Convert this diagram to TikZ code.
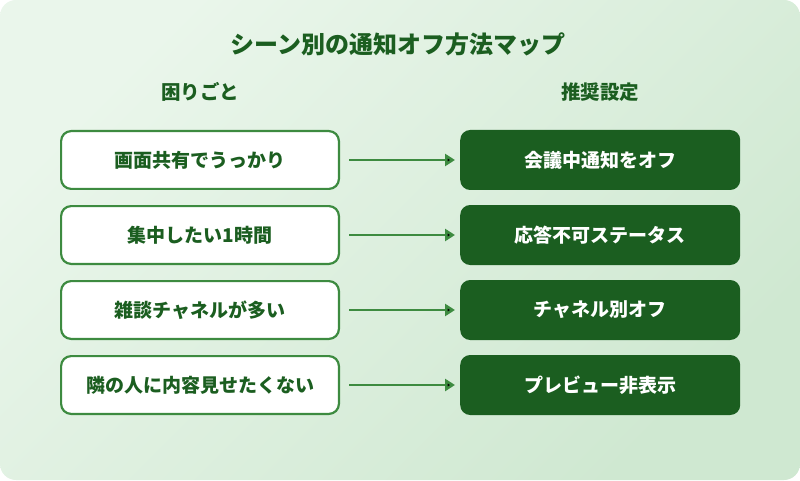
\documentclass[tikz,border=0pt]{standalone}
\usepackage{fontspec}
\setmainfont{Noto Sans CJK JP}
\usepackage{tikz}
\usetikzlibrary{positioning, arrows.meta}
\definecolor{deepgreen}{HTML}{1B5E20}
\definecolor{midgreen}{HTML}{3D8B40}
\definecolor{bglight}{HTML}{EAF6EB}
\definecolor{bgdark}{HTML}{CFE8D1}
\tikzstyle{head}=[text=deepgreen, font=\bfseries\fontsize{19.5}{19.5}\selectfont]
\tikzstyle{prob}=[draw=midgreen, line width=2.2pt, fill=white, rounded corners=10pt, minimum width=277.8pt, minimum height=57.8pt, text=deepgreen, font=\bfseries\fontsize{19}{19}\selectfont]
\tikzstyle{rec}=[fill=deepgreen, rounded corners=10pt, minimum width=280pt, minimum height=60pt, text=white, font=\bfseries\fontsize{19}{19}\selectfont]
\tikzstyle{link}=[->, draw=midgreen, line width=2.8pt, shorten <=9pt, shorten >=5pt]

\begin{document}
\begin{tikzpicture}[node distance=15pt, >={Triangle[length=10pt,width=12pt]}]
    \useasboundingbox (0,0) rectangle (800pt,480pt);
    \shade [rounded corners=16pt, top color=bglight, bottom color=bgdark, shading angle=45] (0,0) rectangle (800pt,480pt);
    % title and column heads
    \node [head, font=\bfseries\fontsize{24}{24}\selectfont] (title) at (398pt,436pt) {シーン別の通知オフ方法マップ};
    \node [head] (hleft) at (200pt,388pt) {困りごと};
    \node [head] (hright) at (600pt,388pt) {推奨設定};
    % problems
    \node [prob] (p1) at (200pt,320pt) {画面共有でうっかり};
    \node [prob, below=of p1] (p2) {集中したい1時間};
    \node [prob, below=of p2] (p3) {雑談チャネルが多い};
    \node [prob, below=of p3] (p4) {隣の人に内容見せたくない};
    % recommended settings
    \node [rec, right=120pt of p1] (r1) {会議中通知をオフ};
    \node [rec, right=120pt of p2] (r2) {応答不可ステータス};
    \node [rec, right=120pt of p3] (r3) {チャネル別オフ};
    \node [rec, right=120pt of p4] (r4) {プレビュー非表示};
    \path[link] (p1) edge (r1);
    \path[link] (p2) edge (r2);
    \path[link] (p3) edge (r3);
    \path[link] (p4) edge (r4);
\end{tikzpicture}
\end{document}
